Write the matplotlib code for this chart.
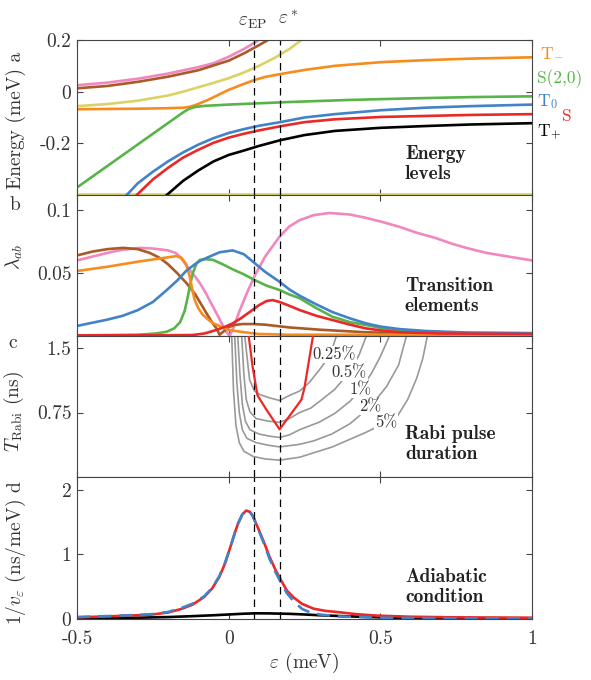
import matplotlib
matplotlib.use('Agg')
import matplotlib.pyplot as plt

plt.rcParams['font.family'] = 'cmr10'
plt.rcParams['mathtext.fontset'] = 'cm'
plt.rcParams['axes.unicode_minus'] = False
plt.rcParams['axes.formatter.use_mathtext'] = True

# colours
c_orange = '#f78c1e'
c_green = '#58b448'
c_blue = '#4182c8'
c_red = '#eb2828'
c_pink = '#f087be'
c_brown = '#aa5a28'
c_yellow = '#dcd264'
c_gray = '#999999'

eps_ep = 0.085
eps_star = 0.168

# ---- panel a: energy levels (meV) ----
pink_x = [-0.5, -0.4, -0.3, -0.2, -0.1, -0.05, 0.0, 0.05, 0.1]
pink_y = [0.025, 0.035, 0.05, 0.07, 0.095, 0.11, 0.135, 0.165, 0.2]
brown_x = [-0.5, -0.4, -0.3, -0.2, -0.1, 0.0, 0.05, 0.1, 0.13]
brown_y = [0.013, 0.022, 0.038, 0.058, 0.083, 0.12, 0.148, 0.18, 0.2]
yellow_x = [-0.5, -0.4, -0.3, -0.2, -0.15, -0.1, -0.05, 0.0, 0.05, 0.1, 0.15, 0.2, 0.24]
yellow_y = [-0.056, -0.048, -0.035, -0.015, 0.0, 0.017, 0.034, 0.052, 0.074, 0.1, 0.13, 0.165, 0.2]
orange_x = [-0.5, -0.3, -0.2, -0.15, -0.13, -0.11, -0.07, 0.0, 0.05, 0.085, 0.12, 0.17, 0.25, 0.35, 0.5, 0.65, 0.8, 1.0]
orange_y = [-0.068, -0.066, -0.064, -0.062, -0.059, -0.052, -0.033, 0.007, 0.03, 0.045, 0.057, 0.068, 0.084, 0.1, 0.114, 0.122, 0.128, 0.133]
green_x = [-0.5, -0.15, -0.13, -0.11, -0.08, 0.0, 0.1, 0.2, 0.4, 0.6, 0.8, 1.0]
green_y = [-0.371, -0.08, -0.066, -0.059, -0.055, -0.05, -0.045, -0.04, -0.032, -0.026, -0.021, -0.018]
blue_x = [-0.336, -0.3, -0.25, -0.2, -0.15, -0.1, -0.05, 0.0, 0.05, 0.1, 0.17, 0.25, 0.35, 0.5, 0.65, 0.8, 1.0]
blue_y = [-0.4, -0.355, -0.31, -0.27, -0.235, -0.205, -0.18, -0.16, -0.145, -0.132, -0.118, -0.1, -0.087, -0.072, -0.062, -0.056, -0.05]
red_x = [-0.303, -0.25, -0.2, -0.15, -0.1, -0.05, 0.0, 0.05, 0.1, 0.17, 0.25, 0.35, 0.5, 0.65, 0.8, 1.0]
red_y = [-0.4, -0.34, -0.295, -0.255, -0.225, -0.198, -0.178, -0.163, -0.15, -0.134, -0.118, -0.107, -0.098, -0.094, -0.09, -0.087]
black_x = [-0.204, -0.15, -0.1, -0.05, 0.0, 0.05, 0.1, 0.17, 0.25, 0.35, 0.5, 0.65, 0.8, 1.0]
black_y = [-0.4, -0.345, -0.305, -0.27, -0.245, -0.228, -0.21, -0.188, -0.168, -0.152, -0.14, -0.133, -0.127, -0.122]
yellow_low = -0.397

# ---- panel b: transition elements ----
lp_x = [-0.5, -0.45, -0.4, -0.35, -0.293, -0.25, -0.2, -0.175, -0.161, -0.145, -0.13, -0.11, -0.095,
        -0.075, -0.06, -0.04, -0.025, -0.01, 0.003, 0.015, 0.036, 0.06, 0.086, 0.12, 0.168, 0.2, 0.234,
        0.28, 0.332, 0.4, 0.45, 0.5, 0.562, 0.62, 0.68, 0.74, 0.783, 0.85, 0.9, 0.95, 1.0]
lp_y = [0.060, 0.063, 0.066, 0.0685, 0.070, 0.0695, 0.068, 0.066, 0.063, 0.058, 0.053, 0.047, 0.042,
        0.034, 0.027, 0.018, 0.011, 0.004, 0.0, 0.006, 0.02, 0.034, 0.048, 0.063, 0.079, 0.087, 0.092,
        0.096, 0.0977, 0.0965, 0.094, 0.091, 0.0868, 0.082, 0.078, 0.073, 0.070, 0.066, 0.064, 0.062, 0.060]
lbr_x = [-0.5, -0.45, -0.4, -0.348, -0.3, -0.26, -0.227, -0.2, -0.17, -0.139, -0.11, -0.09, -0.073,
         -0.055, -0.04, -0.03, -0.015, 0.0, 0.02, 0.046, 0.08, 0.12, 0.2, 0.3, 0.45, 0.6, 1.0]
lbr_y = [0.064, 0.067, 0.069, 0.070, 0.069, 0.066, 0.062, 0.057, 0.050, 0.042, 0.033, 0.025, 0.018,
         0.011, 0.006, 0.001, 0.004, 0.007, 0.0088, 0.0095, 0.0095, 0.009, 0.0068, 0.005, 0.003, 0.002, 0.001]
lo_x = [-0.5, -0.4, -0.3, -0.2, -0.172, -0.155, -0.14, -0.128, -0.12, -0.112, -0.1, -0.086, -0.065,
        -0.05, -0.02, 0.0, 0.05, 0.1, 0.2, 1.0]
lo_y = [0.0516, 0.055, 0.059, 0.0625, 0.0635, 0.062, 0.057, 0.047, 0.037, 0.0286, 0.022, 0.017, 0.0125,
        0.010, 0.0068, 0.0048, 0.003, 0.0016, 0.001, 0.001]
lg_x = [-0.5, -0.3, -0.24, -0.204, -0.18, -0.16, -0.145, -0.135, -0.125, -0.118, -0.107, -0.095, -0.075,
        -0.052, -0.02, 0.013, 0.05, 0.085, 0.125, 0.168, 0.2, 0.234, 0.29, 0.342, 0.4, 0.453, 0.5, 0.562,
        0.65, 0.75, 1.0]
lg_y = [0.0005, 0.001, 0.002, 0.0034, 0.006, 0.011, 0.02, 0.031, 0.043, 0.05, 0.057, 0.0605, 0.061,
        0.0605, 0.057, 0.053, 0.049, 0.0445, 0.040, 0.0365, 0.033, 0.030, 0.022, 0.0153, 0.011, 0.0087,
        0.0065, 0.0045, 0.003, 0.002, 0.0015]
lb_x = [-0.5, -0.45, -0.4, -0.35, -0.3, -0.25, -0.204, -0.17, -0.139, -0.1, -0.073, -0.03, 0.013, 0.05,
        0.085, 0.12, 0.168, 0.2, 0.234, 0.29, 0.342, 0.4, 0.453, 0.5, 0.562, 0.65, 0.783, 1.0]
lb_y = [0.008, 0.0105, 0.013, 0.016, 0.0205, 0.027, 0.0365, 0.044, 0.052, 0.059, 0.062, 0.0665, 0.068,
        0.065, 0.058, 0.051, 0.043, 0.037, 0.032, 0.025, 0.019, 0.014, 0.010, 0.0075, 0.0055, 0.004,
        0.0028, 0.0023]
lr_x = [-0.5, -0.2, -0.118, -0.08, -0.04, -0.01, 0.013, 0.04, 0.069, 0.1, 0.125, 0.145, 0.168, 0.2,
        0.234, 0.29, 0.342, 0.4, 0.453, 0.5, 0.562, 0.7, 1.0]
lr_y = [0.0005, 0.0006, 0.0008, 0.002, 0.0048, 0.0075, 0.010, 0.014, 0.019, 0.0245, 0.0278, 0.0285,
        0.027, 0.024, 0.0206, 0.016, 0.0127, 0.009, 0.006, 0.0045, 0.003, 0.002, 0.0016]

# ---- panel c: Rabi pulse duration (ns) ----
rabi_x = [0.066, 0.079, 0.095, 0.125, 0.168, 0.24, 0.25, 0.278]
rabi_y = [1.64, 1.28, 0.95, 0.78, 0.554, 0.90, 1.04, 1.64]
contour_levels = ['0.25%', '0.5%', '1%', '2%', '5%']
contour_x = [
    [0.053, 0.062, 0.069, 0.085, 0.102, 0.135, 0.168, 0.201, 0.234, 0.266, 0.30, 0.335, 0.355],
    [0.043, 0.05, 0.058, 0.07, 0.09, 0.13, 0.168, 0.20, 0.234, 0.27, 0.30, 0.35, 0.398, 0.43, 0.454],
    [0.03, 0.037, 0.045, 0.055, 0.07, 0.1, 0.135, 0.168, 0.2, 0.234, 0.3, 0.35, 0.4, 0.434, 0.47, 0.5, 0.53],
    [0.02, 0.027, 0.035, 0.045, 0.06, 0.09, 0.13, 0.168, 0.234, 0.28, 0.34, 0.4, 0.467, 0.52, 0.56, 0.586],
    [0.01, 0.016, 0.024, 0.035, 0.05, 0.08, 0.12, 0.168, 0.234, 0.342, 0.453, 0.52, 0.553, 0.59, 0.62, 0.64, 0.655],
]
contour_y = [
    [1.64, 1.35, 1.13, 1.0, 0.96, 0.92, 0.89, 0.95, 1.0, 1.1, 1.25, 1.42, 1.64],
    [1.64, 1.2, 0.9, 0.76, 0.68, 0.65, 0.635, 0.68, 0.75, 0.8, 0.88, 1.02, 1.22, 1.42, 1.64],
    [1.64, 1.2, 0.85, 0.65, 0.55, 0.5, 0.475, 0.46, 0.49, 0.55, 0.64, 0.74, 0.88, 1.02, 1.2, 1.4, 1.64],
    [1.64, 1.1, 0.75, 0.55, 0.45, 0.4, 0.37, 0.35, 0.38, 0.42, 0.5, 0.62, 0.82, 1.05, 1.3, 1.64],
    [1.64, 1.0, 0.6, 0.4, 0.3, 0.24, 0.21, 0.196, 0.23, 0.35, 0.52, 0.635, 0.69, 0.9, 1.15, 1.38, 1.64],
]
label_pos = [(0.349, 1.42), (0.398, 1.22), (0.434, 1.02), (0.467, 0.82), (0.52, 0.635)]

# ---- panel d: adiabatic condition ----
ad_red_x = [-0.5, -0.4, -0.3, -0.255, -0.2, -0.156, -0.12, -0.081, -0.055, -0.031, -0.012, 0.006, 0.02,
            0.031, 0.045, 0.058, 0.07, 0.08, 0.095, 0.118, 0.135, 0.155, 0.175, 0.192, 0.215, 0.242,
            0.28, 0.32, 0.366, 0.42, 0.49, 0.6, 0.739, 1.0]
ad_red_y = [0.026, 0.04, 0.058, 0.068, 0.1, 0.156, 0.22, 0.34, 0.47, 0.65, 0.86, 1.12, 1.33,
            1.48, 1.62, 1.68, 1.66, 1.59, 1.43, 1.17, 0.96, 0.755, 0.58, 0.44, 0.33, 0.234,
            0.16, 0.125, 0.104, 0.075, 0.052, 0.035, 0.026, 0.02]
ad_blue_x = [-0.5, -0.4, -0.3, -0.255, -0.2, -0.156, -0.12, -0.081, -0.055, -0.031, -0.012, 0.006, 0.02,
             0.031, 0.045, 0.058, 0.07, 0.08, 0.095, 0.118, 0.135, 0.155, 0.175, 0.192, 0.215, 0.242,
             0.27, 0.3, 0.366, 0.5, 0.739, 1.0]
ad_blue_y = [0.03, 0.045, 0.063, 0.075, 0.108, 0.17, 0.235, 0.35, 0.48, 0.66, 0.87, 1.12, 1.33,
             1.48, 1.62, 1.68, 1.66, 1.59, 1.42, 1.15, 0.93, 0.72, 0.54, 0.40, 0.27, 0.156,
             0.1, 0.07, 0.04, 0.02, 0.012, 0.01]
ad_black_x = [-0.5, -0.4, -0.3, -0.2, -0.13, -0.05, 0.0, 0.05, 0.09, 0.13, 0.2, 0.25, 0.3, 0.4, 0.5, 0.6, 0.7, 1.0]
ad_black_y = [0.01, 0.015, 0.02, 0.03, 0.042, 0.058, 0.07, 0.082, 0.088, 0.087, 0.08, 0.07, 0.058, 0.04,
              0.025, 0.015, 0.01, 0.005]

W, H = 591, 680
fig = plt.figure(figsize=(W / 100, H / 100), dpi=100)


def px_axes(top, bottom):
    return fig.add_axes([77 / W, 1 - bottom / H, 455 / W, (bottom - top) / H])


ax_a = px_axes(40, 195)
ax_b = px_axes(195, 336)
ax_c = px_axes(336, 477)
ax_d = px_axes(477, 619)
axes = [ax_a, ax_b, ax_c, ax_d]

lw = 1.9
ax_a.plot(pink_x, pink_y, color=c_pink, lw=lw)
ax_a.plot(brown_x, brown_y, color=c_brown, lw=lw)
ax_a.plot(yellow_x, yellow_y, color=c_yellow, lw=lw)
ax_a.axhline(yellow_low, color=c_yellow, lw=lw)
ax_a.plot(orange_x, orange_y, color=c_orange, lw=lw)
ax_a.plot(green_x, green_y, color=c_green, lw=lw)
ax_a.plot(blue_x, blue_y, color=c_blue, lw=lw)
ax_a.plot(red_x, red_y, color=c_red, lw=lw)
ax_a.plot(black_x, black_y, color='black', lw=lw)
ax_a.set_ylim(-0.4, 0.2)
ax_a.set_yticks([-0.2, 0, 0.2])
ax_a.set_yticklabels(['-0.2', '0', '0.2'])

ax_b.plot(lp_x, lp_y, color=c_pink, lw=lw)
ax_b.plot(lbr_x, lbr_y, color=c_brown, lw=lw)
ax_b.plot(lg_x, lg_y, color=c_green, lw=lw)
ax_b.plot(lo_x, lo_y, color=c_orange, lw=lw)
ax_b.plot(lb_x, lb_y, color=c_blue, lw=lw)
ax_b.plot(lr_x, lr_y, color=c_red, lw=lw)
ax_b.set_ylim(0, 0.112)
ax_b.set_yticks([0.05, 0.1])
ax_b.set_yticklabels(['0.05', '0.1'])

for cx, cy in zip(contour_x, contour_y):
    ax_c.plot(cx, cy, color=c_gray, lw=1.2)
for lab, (lx, ly) in zip(contour_levels, label_pos):
    ax_c.text(lx, ly, lab, fontsize=12, ha='center', va='center', color='#333333',
              bbox=dict(boxstyle='square,pad=0.05', fc='white', ec='none'), zorder=3)
ax_c.plot(rabi_x, rabi_y, color=c_red, lw=1.6, zorder=4)
ax_c.set_ylim(0, 1.64)
ax_c.set_yticks([0.75, 1.5])
ax_c.set_yticklabels(['0.75', '1.5'])

ax_d.plot(ad_black_x, ad_black_y, color='black', lw=lw)
ax_d.plot(ad_red_x, ad_red_y, color=c_red, lw=lw)
ax_d.plot(ad_blue_x, ad_blue_y, color=c_blue, lw=lw, dashes=(5, 3))
ax_d.set_ylim(0, 2.2)
ax_d.set_yticks([0, 1, 2])
ax_d.set_yticklabels(['0', '1', '2'])

for ax in axes:
    ax.set_xlim(-0.5, 1)
    ax.set_xticks([-0.5, 0, 0.5, 1])
    ax.tick_params(direction='in', top=True, right=True, length=4, width=0.8,
                   color='#444444', labelsize=14, labelcolor='#333333', pad=4)
    ax.tick_params(axis='x', pad=8)
    for s in ax.spines.values():
        s.set_color('#444444')
        s.set_linewidth(0.8)
    ax.axvline(eps_ep, color='black', lw=0.9, dashes=(6, 4))
    ax.axvline(eps_star, color='black', lw=0.9, dashes=(6, 4))
for ax in axes[:3]:
    ax.set_xticklabels([])
ax_d.set_xticklabels(['-0.5', '0', '0.5', '1'])
ax_d.set_xlabel(r'$\varepsilon$ (meV)', fontsize=14, color='#333333', labelpad=2)

# panel descriptions
desc = [(ax_a, 'Energy\nlevels'), (ax_b, 'Transition\nelements'),
        (ax_c, 'Rabi pulse\nduration'), (ax_d, 'Adiabatic\ncondition')]
desc_y = [183, 315, 463, 606]
for (ax, txt), yb in zip(desc, desc_y):
    fig.text(405 / W, 1 - yb / H, txt, family='cmb10', fontsize=14,
             ha='left', va='bottom', color='#222222', linespacing=1.15)

# y labels and panel letters
fig.text(16 / W, 1 - 120 / H, 'Energy (meV) a', rotation=90, fontsize=14,
         ha='center', va='center', color='#333333')
fig.text(14 / W, 1 - 257 / H, r'$\lambda_{ab}$', rotation=90, fontsize=14,
         ha='center', va='center', color='#333333')
fig.text(15 / W, 1 - 205 / H, 'b', fontsize=14, ha='center', va='center', color='#333333')
fig.text(14 / W, 1 - 412 / H, r'$T_{\rm Rabi}$ (ns)', rotation=90, fontsize=14,
         ha='center', va='center', color='#333333')
fig.text(13 / W, 1 - 343 / H, 'c', fontsize=14, ha='center', va='center', color='#333333')
fig.text(16 / W, 1 - 553 / H, r'1/$v_\varepsilon$ (ns/meV) d', rotation=90, fontsize=14,
         ha='center', va='center', color='#333333')

# state labels on the right of panel a
fig.text(540 / W, 1 - 52 / H, r'T$_{-}$', fontsize=12.5, color=c_orange, ha='left', va='center')
fig.text(537 / W, 1 - 79 / H, 'S(2,0)', fontsize=12.5, color=c_green, ha='left', va='center')
fig.text(537 / W, 1 - 102 / H, r'T$_{0}$', fontsize=12.5, color=c_blue, ha='left', va='center')
fig.text(562 / W, 1 - 116 / H, 'S', fontsize=12.5, color=c_red, ha='left', va='center')
fig.text(537 / W, 1 - 132 / H, r'T$_{+}$', fontsize=12.5, color='black', ha='left', va='center')

# markers above the dashed lines
fig.text(252 / W, 1 - 22 / H, r'$\varepsilon_{\rm EP}$', fontsize=14, ha='center',
         va='center', color='#333333')
fig.text(288 / W, 1 - 20 / H, r'$\varepsilon^*$', fontsize=14, ha='center',
         va='center', color='#333333')

plt.savefig('out.png', dpi=100)
